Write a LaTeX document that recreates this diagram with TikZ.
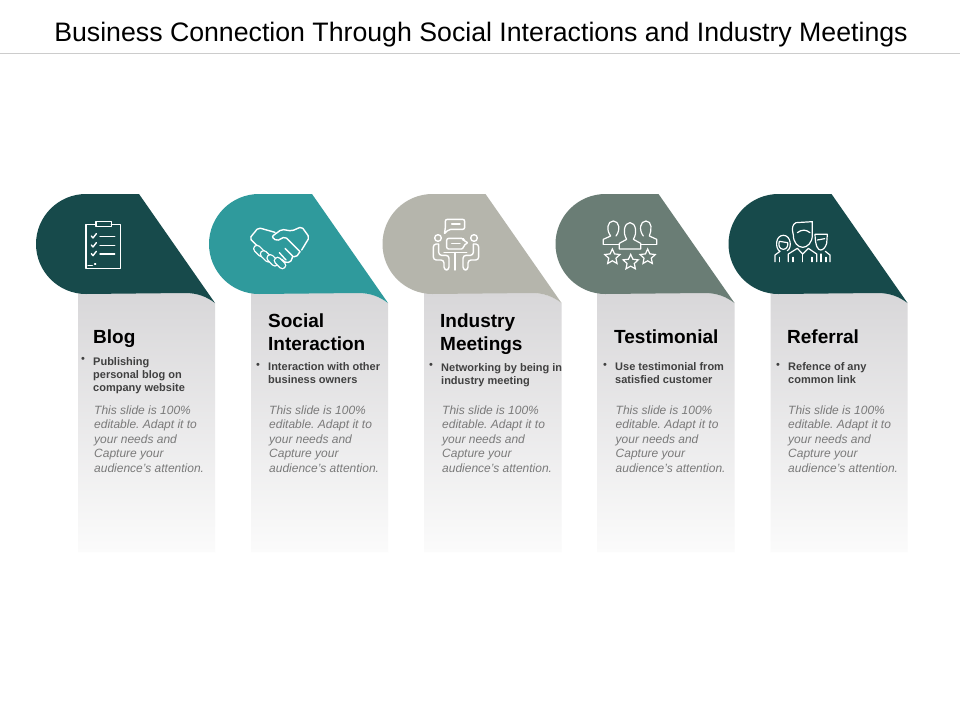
\documentclass[tikz,border=0pt]{standalone}
\usepackage{fontspec}
\setmainfont{Liberation Sans}
\usetikzlibrary{shapes.geometric}
\definecolor{darkhead}{HTML}{174A4B}
\definecolor{tealhead}{HTML}{2F9A9C}
\definecolor{stonehead}{HTML}{B5B5AC}
\definecolor{sagehead}{HTML}{6A7D75}
\definecolor{cardtop}{HTML}{D8D7D9}
\definecolor{cardbottom}{HTML}{FBFBFB}
\definecolor{bullettext}{HTML}{404040}
\definecolor{bodytext}{HTML}{7A7A7A}
\tikzset{
	heading/.style={anchor=west, align=left, inner sep=0pt, text=black, font=\fontsize{19}{23}\selectfont\bfseries},
	bullet/.style={anchor=west, align=left, inner sep=0pt, text=bullettext, font=\fontsize{11}{13}\selectfont\bfseries},
	dot/.style={anchor=center, inner sep=0pt, text=bullettext, font=\fontsize{11}{11}\selectfont},
	body/.style={anchor=west, align=left, inner sep=0pt, text=bodytext, font=\fontsize{12}{14.4}\selectfont\itshape},
	icon/.style={draw=white, line width=1.4pt, line join=round, line cap=round},
	iconstar/.style={star, star points=5, star point ratio=2.1, draw=white, line width=1.2pt, minimum size=16pt, inner sep=0pt}
}
\newcommand{\panelshape}[2]{
	\begin{scope}[xshift=#1]
		\shade[top color=cardtop, bottom color=cardbottom] (78,293) -- (185,293) .. controls (198,293) and (207,297) .. (215,303) -- (215,552) -- (78,552) -- cycle;
		\fill[#2] (86,294) .. controls (58.4,294) and (36,271.6) .. (36,244) .. controls (36,216.4) and (58.4,194) .. (86,194) -- (139,194) -- (215,303) .. controls (207,297) and (198,293) .. (185,293) -- cycle;
	\end{scope}
}
\newcommand{\slidetext}{This slide is 100\%\\editable. Adapt it to\\your needs and\\Capture your\\audience's attention.}
\begin{document}
\frenchspacing
\begin{tikzpicture}[x=1pt, y=-1pt]
	\useasboundingbox (0,0) rectangle (960,720);
	\fill[white] (0,0) rectangle (960,720);

	\node[inner sep=0pt, text=black, font=\fontsize{26.7}{32}\selectfont] (title) at (481,35) {Business Connection Through Social Interactions and Industry Meetings};
	\draw[gray!40, line width=0.8pt] (0,53) -- (960,53);

	\panelshape{0}{darkhead}
	\panelshape{173}{tealhead}
	\panelshape{346.5}{stonehead}
	\panelshape{519.5}{sagehead}
	\panelshape{692.5}{darkhead}

	\node[heading] (blogtitle) at (93,339) {Blog};
	\node[dot] (blogdot) at (83,360) {•};
	\node[bullet] (blogtext) at (93,376) {Publishing\\personal blog on\\company website};
	\node[body] (blogbody) at (94,439) {\slidetext};

	\node[heading] (socialtitle) at (268,332.5) {Social\\Interaction};
	\node[dot] (socialdot) at (258,366) {•};
	\node[bullet] (socialtext) at (268,373.5) {Interaction with other\\business owners};
	\node[body] (socialbody) at (269,439) {\slidetext};

	\node[heading] (industrytitle) at (440,334.5) {Industry\\Meetings};
	\node[dot] (industrydot) at (431,366) {•};
	\node[bullet] (industrytext) at (441,375.5) {Networking by being in\\industry meeting};
	\node[body] (industrybody) at (442,439) {\slidetext};

	\node[heading] (testimonialtitle) at (614,337) {Testimonial};
	\node[dot] (testimonialdot) at (605,366) {•};
	\node[bullet] (testimonialtext) at (615,373.5) {Use testimonial from\\satisfied customer};
	\node[body] (testimonialbody) at (615.5,439) {\slidetext};

	\node[heading] (referraltitle) at (787,337) {Referral};
	\node[dot] (referraldot) at (778,366) {•};
	\node[bullet] (referraltext) at (788,373.5) {Refence of any\\common link};
	\node[body] (referralbody) at (788,439) {\slidetext};

	\begin{scope}[shift={(20,180)}, scale=1/3]
		\draw[icon] (228,133) -- (198,133) -- (198,266) -- (302,266) -- (302,133) -- (274,133);
		\draw[icon] (228,124) rectangle (274,140);
		\draw[icon] (214,168) -- (219,174) -- (229,161);
		\draw[icon] (214,195) -- (219,201) -- (229,188);
		\draw[icon] (214,221) -- (219,227) -- (229,214);
		\draw[icon] (240,169) -- (284,169);
		\draw[icon] (240,196) -- (284,196);
		\draw[icon] (240,222) -- (284,222);
		\draw[icon] (204,256) -- (217,256);
		\draw[icon] (224,252) -- (227,252);
	\end{scope}

	\begin{scope}[shift={(20,180)}, scale=1/3]
		\draw[icon, rounded corners=2pt] (712,198) -- (689,175) -- (715,143) -- (765,157);
		\draw[icon, rounded corners=2pt] (845,210) -- (868,172) -- (845,140) -- (815,153) -- (785,148) -- (755,170) -- (770,183) -- (795,170) -- (840,215);
		\foreach \fingerx/\fingery in {0/0, 20/16, 40/28, 62/36} {
			\draw[white, line width=8pt, line cap=round] (711+\fingerx,206+\fingery) -- (725+\fingerx,220+\fingery);
			\draw[tealhead, line width=5.2pt, line cap=round] (711+\fingerx,206+\fingery) -- (725+\fingerx,220+\fingery);
		}
		\draw[icon, rounded corners=2pt] (840,215) -- (828,232) -- (815,228) -- (818,240) -- (800,250) -- (785,238);
		\draw[icon] (795,205) -- (818,228);
		\draw[icon] (778,218) -- (798,240);
	\end{scope}

	\begin{scope}[shift={(370,180)}, scale=1/3]
		\draw[icon, rounded corners=2pt] (236,148) -- (222,163) -- (226,148) -- (226,118) -- (284,118) -- (284,148) -- cycle;
		\draw[icon] (245,132) -- (270,132);
		\draw[icon, rounded corners=2pt] (230,175) -- (280,175) -- (280,182) -- (295,188) -- (280,196) -- (280,207) -- (230,207) -- cycle;
		\draw[icon] (245,190) -- (270,190);
		\draw[icon] (222,218) -- (290,218);
		\draw[icon] (255,218) -- (255,270);
		\draw[icon] (204,174) circle (10);
		\draw[icon] (312,174) circle (10);
		\draw[icon, rounded corners=3pt] (205,192) -- (190,192) -- (190,240) -- (222,240) -- (222,270) -- (237,270) -- (237,226) -- (206,226) -- (206,192);
		\draw[icon, rounded corners=3pt] (311,192) -- (326,192) -- (326,240) -- (294,240) -- (294,270) -- (279,270) -- (279,226) -- (310,226) -- (310,192);
	\end{scope}

	\begin{scope}[shift={(370,180)}, scale=1/3]
		\draw[icon, line width=1.2pt] (700,193) -- (700,178) -- (722,168) .. controls (708,150) and (712,123) .. (730,123) .. controls (748,123) and (752,150) .. (738,168);
		\draw[icon, line width=1.2pt] (700,193) -- (748,193);
		\draw[icon, line width=1.2pt] (860,193) -- (860,178) -- (838,168) .. controls (846,150) and (846,123) .. (828,123) .. controls (810,123) and (806,150) .. (820,168);
		\draw[icon, line width=1.2pt] (860,193) -- (812,193);
		\draw[icon, line width=1.2pt] (748,207) -- (748,190) -- (770,178) .. controls (758,160) and (762,128) .. (780,128) .. controls (798,128) and (802,160) .. (790,178) -- (812,190) -- (812,207) -- cycle;
		\node[iconstar] (staro) at (727,231) {};
		\node[iconstar] (starw) at (782,247) {};
		\node[iconstar] (starth) at (833,231) {};
	\end{scope}

	\begin{scope}[shift={(720,180)}, scale=1/3]
		\draw[icon, line width=1.2pt] (220,165) .. controls (214,145) and (218,132) .. (228,128) -- (277,125) -- (277,165) .. controls (277,188) and (262,202) .. (248,202) .. controls (234,202) and (220,188) .. (220,165);
		\draw[icon, line width=1.2pt] (232,158) .. controls (245,148) and (258,148) .. (270,158);
		\draw[icon, line width=1.2pt] (205,245) -- (205,222) -- (232,205) -- (248,222) -- (265,205) -- (290,222) -- (290,245);
		\draw[icon, line width=1.2pt] (248,222) -- (248,245);
		\draw[icon, line width=1.2pt] (219,232) -- (219,245);
		\draw[icon, line width=1.2pt] (276,232) -- (276,245);
		\draw[icon, line width=1.2pt] (190,166) .. controls (166,166) and (164,205) .. (180,214) -- (165,225) -- (165,245);
		\draw[icon, line width=1.2pt] (190,166) .. controls (214,166) and (216,205) .. (202,212);
		\draw[icon, line width=1.2pt] (190,208) .. controls (178,208) and (174,195) .. (178,184) -- (203,188) .. controls (205,197) and (200,208) .. (190,208);
		\draw[icon, line width=1.2pt] (178,232) -- (178,245);
		\draw[icon, line width=1.2pt] (285,163) -- (322,163) -- (320,190) .. controls (316,204) and (308,210) .. (302,210) .. controls (294,210) and (286,200) .. (285,163);
		\draw[icon, line width=1.2pt] (292,180) -- (314,176);
		\draw[icon, line width=1.2pt] (330,245) -- (330,225) -- (316,214);
		\draw[icon, line width=1.2pt] (303,222) -- (303,245);
		\draw[icon, line width=1.2pt] (318,232) -- (318,245);
	\end{scope}
\end{tikzpicture}
\end{document}
